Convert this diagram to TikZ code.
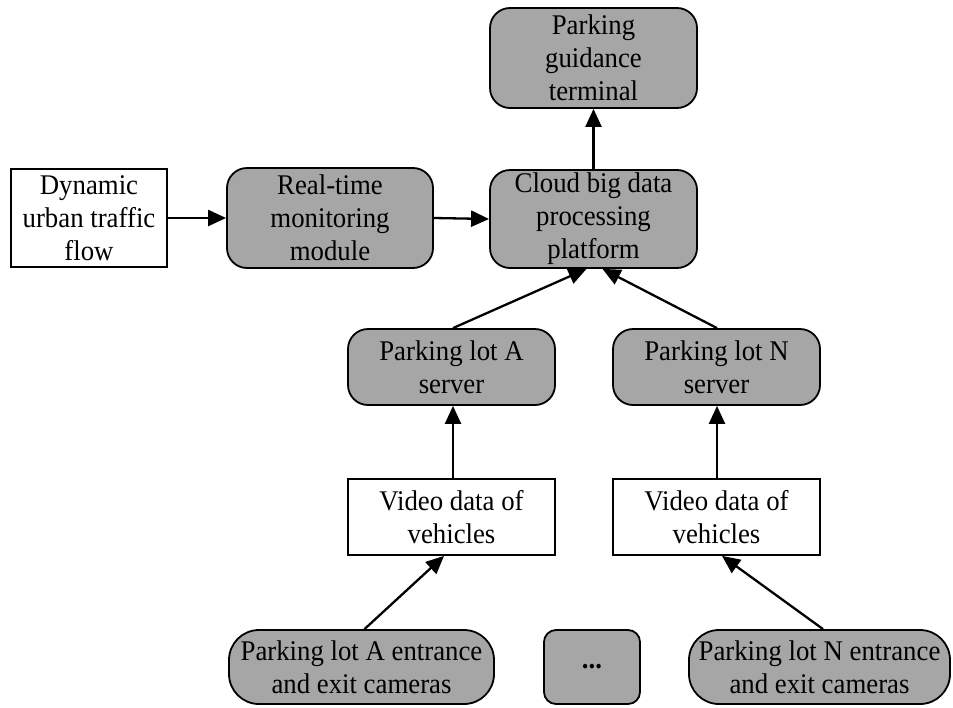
\documentclass[tikz,border=0pt]{standalone}
\usepackage{fontspec}
\setmainfont{Liberation Serif}[FakeStretch=0.94]
\usetikzlibrary{arrows.meta}
\definecolor{boxgray}{RGB}{166,166,166}
\tikzset{
  base/.style={draw=black, line width=1.8pt, align=center, inner sep=0pt,
    font=\fontsize{28.5}{33}\selectfont},
  graybox/.style={base, fill=boxgray, rounded corners=20pt},
  whitebox/.style={base, fill=white},
  campill/.style={base, fill=boxgray, rounded corners=30pt},
  dotbox/.style={base, fill=boxgray, rounded corners=12pt},
  conn/.style={line width=2.3pt, -{Triangle[length=18pt,width=16pt]}}
}
\begin{document}
\begin{tikzpicture}[x=1pt,y=-1pt]
\useasboundingbox (0,0) rectangle (953,707);
\node[graybox, minimum width=207pt, minimum height=100pt] (term) at (593.5,58) {Parking\\guidance\\terminal};
\node[graybox, minimum width=207pt, minimum height=98pt] (cloud) at (593.5,219) {Cloud big data\\processing\\platform};
\node[whitebox, minimum width=156pt, minimum height=98pt] (dyn) at (89,218) {Dynamic\\urban traffic\\flow};
\node[graybox, minimum width=206pt, minimum height=100pt] (rtm) at (330,218) {Real-time\\monitoring\\module};
\node[graybox, minimum width=207pt, minimum height=76pt] (srvA) at (451.5,367) {Parking lot A\\server};
\node[graybox, minimum width=207pt, minimum height=76pt] (srvN) at (716.5,367) {Parking lot N\\server};
\node[whitebox, minimum width=207pt, minimum height=76pt] (vidA) at (451.5,517) {Video data of\\vehicles};
\node[whitebox, minimum width=207pt, minimum height=76pt] (vidN) at (716.5,517) {Video data of\\vehicles};
\node[campill, minimum width=265pt, minimum height=74pt] (camA) at (361.5,667) {Parking lot A entrance\\and exit cameras};
\node[dotbox, minimum width=96pt, minimum height=74pt, font=\fontsize{28.5}{33}\selectfont\bfseries] (dots) at (592,667) {...};
\node[campill, minimum width=261pt, minimum height=74pt] (camN) at (819.5,667) {Parking lot N entrance\\and exit cameras};
\draw[conn] (cloud.north) -- (term.south);
\draw[conn] (dyn.east) -- (rtm.west);
\draw[conn] (rtm.east) -- (cloud.west);
\draw[conn] ([xshift=1.5pt]srvA.north) -- ([xshift=-7pt]cloud.south);
\draw[conn] ([xshift=0.5pt]srvN.north) -- ([xshift=9pt]cloud.south);
\draw[conn] ([xshift=1.5pt]vidA.north) -- ([xshift=1.5pt]srvA.south);
\draw[conn] ([xshift=0.5pt]vidN.north) -- ([xshift=0.5pt]srvN.south);
\draw[conn] ([xshift=3pt]camA.north) -- ([xshift=-7.5pt]vidA.south);
\draw[conn] ([xshift=3.5pt]camN.north) -- ([xshift=5.5pt]vidN.south);
\end{tikzpicture}
\end{document}
